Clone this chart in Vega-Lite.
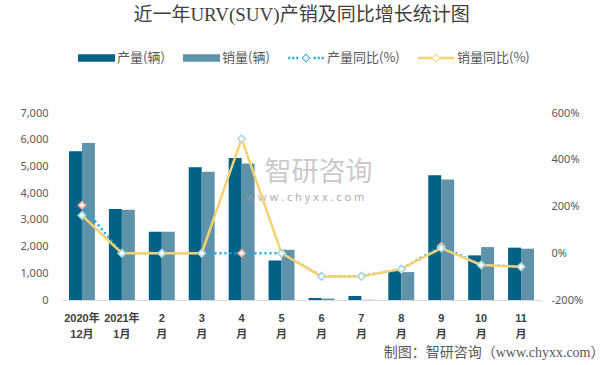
{
  "$schema": "https://vega.github.io/schema/vega-lite/v6.json",
  "width": 479,
  "height": 187,
  "autosize": "none",
  "padding": {"left": 62, "top": 113, "right": 66, "bottom": 65},
  "background": "#ffffff",
  "config": {
    "view": {"stroke": null},
    "axis": {"grid": false, "ticks": false, "labelFont": "Noto Sans", "labelFontSize": 11, "labelColor": "#595959"}
  },
  "title": {
    "text": "近一年URV(SUV)产销及同比增长统计图",
    "font": "Liberation Serif, Noto Sans CJK SC",
    "fontSize": 19,
    "fontWeight": "normal",
    "color": "#404040",
    "anchor": "middle",
    "frame": "group",
    "offset": 15
  },
  "data": {
    "values": [
      {"month": "2020年|12月", "series": "产量(辆)", "value": 5570},
      {"month": "2021年|1月", "series": "产量(辆)", "value": 3410},
      {"month": "2|月", "series": "产量(辆)", "value": 2555},
      {"month": "3|月", "series": "产量(辆)", "value": 4970},
      {"month": "4|月", "series": "产量(辆)", "value": 5320},
      {"month": "5|月", "series": "产量(辆)", "value": 1480},
      {"month": "6|月", "series": "产量(辆)", "value": 75},
      {"month": "7|月", "series": "产量(辆)", "value": 150},
      {"month": "8|月", "series": "产量(辆)", "value": 1080},
      {"month": "9|月", "series": "产量(辆)", "value": 4670},
      {"month": "10|月", "series": "产量(辆)", "value": 1670},
      {"month": "11|月", "series": "产量(辆)", "value": 1960},
      {"month": "2020年|12月", "series": "销量(辆)", "value": 5880},
      {"month": "2021年|1月", "series": "销量(辆)", "value": 3380},
      {"month": "2|月", "series": "销量(辆)", "value": 2555},
      {"month": "3|月", "series": "销量(辆)", "value": 4800},
      {"month": "4|月", "series": "销量(辆)", "value": 5110},
      {"month": "5|月", "series": "销量(辆)", "value": 1880},
      {"month": "6|月", "series": "销量(辆)", "value": 55},
      {"month": "7|月", "series": "销量(辆)", "value": 10},
      {"month": "8|月", "series": "销量(辆)", "value": 1045},
      {"month": "9|月", "series": "销量(辆)", "value": 4510},
      {"month": "10|月", "series": "销量(辆)", "value": 1980},
      {"month": "11|月", "series": "销量(辆)", "value": 1920},
      {"month": "2020年|12月", "series": "产量同比(%)", "value": 205},
      {"month": "2021年|1月", "series": "产量同比(%)", "value": 0},
      {"month": "2|月", "series": "产量同比(%)", "value": 0},
      {"month": "3|月", "series": "产量同比(%)", "value": 0},
      {"month": "4|月", "series": "产量同比(%)", "value": 0},
      {"month": "5|月", "series": "产量同比(%)", "value": 0},
      {"month": "6|月", "series": "产量同比(%)", "value": -98},
      {"month": "7|月", "series": "产量同比(%)", "value": -98},
      {"month": "8|月", "series": "产量同比(%)", "value": -68},
      {"month": "9|月", "series": "产量同比(%)", "value": 30},
      {"month": "10|月", "series": "产量同比(%)", "value": -50},
      {"month": "11|月", "series": "产量同比(%)", "value": -58},
      {"month": "2020年|12月", "series": "销量同比(%)", "value": 162},
      {"month": "2021年|1月", "series": "销量同比(%)", "value": 0},
      {"month": "2|月", "series": "销量同比(%)", "value": 0},
      {"month": "3|月", "series": "销量同比(%)", "value": 0},
      {"month": "4|月", "series": "销量同比(%)", "value": 490},
      {"month": "5|月", "series": "销量同比(%)", "value": 0},
      {"month": "6|月", "series": "销量同比(%)", "value": -99},
      {"month": "7|月", "series": "销量同比(%)", "value": -99},
      {"month": "8|月", "series": "销量同比(%)", "value": -67},
      {"month": "9|月", "series": "销量同比(%)", "value": 22},
      {"month": "10|月", "series": "销量同比(%)", "value": -50},
      {"month": "11|月", "series": "销量同比(%)", "value": -58}
    ]
  },
  "encoding": {
    "x": {
      "field": "month",
      "type": "nominal",
      "sort": null,
      "scale": {"paddingInner": 0.35, "paddingOuter": 0.175},
      "axis": {
        "labelExpr": "split(datum.label, '|')",
        "labelAngle": 0,
        "labelFont": "Liberation Sans, Noto Sans CJK SC",
        "labelFontWeight": "bold",
        "labelFontSize": 11,
        "labelColor": "#404040",
        "labelLineHeight": 16,
        "labelPadding": 12,
        "domainColor": "#d9d9d9",
        "domainWidth": 1,
        "title": "制图：智研咨询（www.chyxx.com）",
        "titleFont": "Liberation Serif, Noto Sans CJK SC",
        "titleFontSize": 14,
        "titleFontWeight": "normal",
        "titleColor": "#595959",
        "titleAlign": "right",
        "titleAnchor": "end",
        "titleBaseline": "middle",
        "titleX": 542,
        "titleY": 52
      }
    }
  },
  "layer": [
    {
      "layer": [
        {
          "transform": [{"filter": "datum.series == '产量(辆)' || datum.series == '销量(辆)'"}],
          "mark": {"type": "bar"},
          "encoding": {
            "xOffset": {"field": "series", "type": "nominal", "sort": ["产量(辆)", "销量(辆)"], "scale": {"paddingInner": 0, "paddingOuter": 0}},
            "y": {
              "field": "value",
              "type": "quantitative",
              "scale": {"domain": [0, 7000], "nice": false},
              "axis": {"orient": "left", "values": [0, 1000, 2000, 3000, 4000, 5000, 6000, 7000], "labelExpr": "datum.value == 0 ? '0' : floor(datum.value / 1000) + ',000'", "labelOverlap": false, "domain": false, "labelPadding": 14, "title": null}
            },
            "color": {
              "field": "series",
              "type": "nominal",
              "scale": {
                "domain": ["产量(辆)", "销量(辆)", "产量同比(%)", "销量同比(%)"],
                "range": ["#006287", "#5f93ab", "#1aa7e0", "#f8d271"]
              },
              "legend": {
                "orient": "none",
                "legendX": 16,
                "legendY": -73,
                "direction": "horizontal",
                "columns": 4,
                "title": null,
                "padding": 0,
                "symbolSize": 1296,
                "symbolStrokeWidth": 0,
                "labelFont": "Noto Sans CJK SC",
                "labelFontSize": 13,
                "labelColor": "#595959",
                "labelOffset": 3,
                "columnPadding": 18,
                "encode": {
                  "symbols": {
                    "update": {
                      "shape": {"signal": "datum.index < 2 ? 'M-1,-0.21H1.06V0.21H-1Z' : datum.index == 2 ? 'M-0.98,-0.065H-0.87V0.065H-0.98Z M-0.76,-0.065H-0.65V0.065H-0.76Z M-0.54,-0.065H-0.43V0.065H-0.54Z M0.43,-0.065H0.54V0.065H0.43Z M0.65,-0.065H0.76V0.065H0.65Z M0.87,-0.065H0.98V0.065H0.87Z M0,-0.25L0.25,0L0,0.25L-0.25,0Z M0,-0.18L-0.18,0L0,0.18L0.18,0Z' : 'M-1,-0.07H-0.24V0.07H-1Z M0.24,-0.07H1V0.07H0.24Z M0,-0.25L0.25,0L0,0.25L-0.25,0Z M0,-0.18L-0.18,0L0,0.18L0.18,0Z'"},
                      "strokeWidth": {"value": 0},
                      "opacity": {"value": 1},
                      "fillOpacity": {"value": 1}
                    }
                  }
                }
              }
            }
          }
        },
        {
          "data": {"values": [{"wm": 1}]},
          "mark": {"type": "text", "text": "智研咨询", "font": "Noto Sans CJK SC", "fontSize": 27, "color": "#bdbdbd", "opacity": 0.8, "dx": -3},
          "encoding": {
            "x": {"datum": "6|月", "type": "nominal"},
            "y": {"datum": 4750, "type": "quantitative", "axis": {"orient": "left", "values": [0, 1000, 2000, 3000, 4000, 5000, 6000, 7000], "labelExpr": "datum.value == 0 ? '0' : floor(datum.value / 1000) + ',000'", "labelOverlap": false, "domain": false, "labelPadding": 14, "title": null}}
          }
        },
        {
          "data": {"values": [{"wm": 1}]},
          "mark": {"type": "text", "text": "w w w . c h y x x . c o m", "font": "Noto Sans", "fontSize": 11, "color": "#9a9a9a", "opacity": 0.8, "dx": -16},
          "encoding": {
            "x": {"datum": "6|月", "type": "nominal"},
            "y": {"datum": 3830, "type": "quantitative", "axis": {"orient": "left", "values": [0, 1000, 2000, 3000, 4000, 5000, 6000, 7000], "labelExpr": "datum.value == 0 ? '0' : floor(datum.value / 1000) + ',000'", "labelOverlap": false, "domain": false, "labelPadding": 14, "title": null}}
          }
        }
      ]
    },
    {
      "layer": [
        {
          "transform": [{"filter": "datum.series == '产量同比(%)'"}],
          "mark": {"type": "line", "strokeWidth": 2.5, "strokeDash": [2, 3]},
          "encoding": {
            "y": {
              "field": "value",
              "type": "quantitative",
              "scale": {"domain": [-200, 600], "nice": false},
              "axis": {"orient": "right", "values": [-200, -100, 0, 100, 200, 300, 400, 500, 600], "labelExpr": "datum.value + '%'", "labelOverlap": false, "domain": false, "labelPadding": 10, "title": null}
            },
            "color": {"field": "series", "type": "nominal"}
          }
        },
        {
          "transform": [{"filter": "datum.series == '销量同比(%)'"}],
          "mark": {"type": "line", "strokeWidth": 2.5},
          "encoding": {
            "y": {"field": "value", "type": "quantitative"},
            "color": {"field": "series", "type": "nominal"}
          }
        },
        {
          "transform": [{"filter": "datum.series == '产量同比(%)' || datum.series == '销量同比(%)'"}],
          "mark": {"type": "point", "shape": "diamond", "filled": true, "fill": "#ffffff", "size": 55, "strokeWidth": 1.5, "opacity": 1},
          "encoding": {
            "y": {"field": "value", "type": "quantitative"},
            "order": {"field": "series", "sort": "ascending"},
            "stroke": {
              "field": "series",
              "type": "nominal",
              "scale": {"domain": ["产量同比(%)", "销量同比(%)"], "range": ["#f4a59c", "#a6dbdb"]},
              "legend": null
            }
          }
        }
      ]
    }
  ],
  "resolve": {"scale": {"y": "independent"}}
}
